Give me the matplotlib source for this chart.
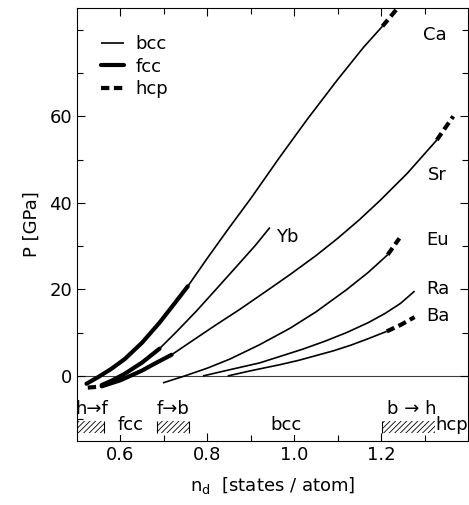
import matplotlib.pyplot as plt
from matplotlib.lines import Line2D

plt.rcParams.update({'font.family': 'DejaVu Sans', 'font.size': 13,
                     'hatch.linewidth': 0.6})

# Ca
ca_fcc_x = [0.522, 0.55, 0.58, 0.61, 0.65, 0.69, 0.725, 0.755]
ca_fcc_y = [-1.8, -0.2, 1.7, 3.9, 7.7, 12.3, 16.8, 20.7]
ca_bcc_x = [0.755, 0.80, 0.85, 0.90, 0.967, 1.03, 1.10, 1.16, 1.203]
ca_bcc_y = [20.7, 27.2, 34.2, 41.0, 50.6, 59.3, 68.5, 76.0, 80.8]
ca_hcp_x = [1.203, 1.238]
ca_hcp_y = [80.8, 85.0]

# Yb
yb_hcp_x = [0.525, 0.548]
yb_hcp_y = [-2.7, -2.5]
yb_fcc_x = [0.557, 0.58, 0.61, 0.65, 0.69]
yb_fcc_y = [-2.1, -1.1, 0.5, 3.1, 6.3]
yb_bcc_x = [0.69, 0.73, 0.775, 0.82, 0.87, 0.91, 0.944]
yb_bcc_y = [6.3, 10.3, 15.0, 20.0, 25.6, 30.1, 34.3]

# Sr
sr_fcc_x = [0.557, 0.60, 0.649, 0.68, 0.718]
sr_fcc_y = [-2.4, -1.0, 1.2, 2.9, 4.9]
sr_bcc_x = [0.718, 0.771, 0.82, 0.875, 0.93, 0.99, 1.05, 1.10, 1.15, 1.197, 1.26, 1.328]
sr_bcc_y = [4.9, 8.5, 11.8, 15.4, 19.2, 23.4, 27.8, 31.8, 36.1, 40.5, 46.8, 54.5]
sr_hcp_x = [1.328, 1.366]
sr_hcp_y = [54.5, 60.0]

# Eu
eu_bcc_x = [0.698, 0.748, 0.80, 0.852, 0.92, 0.99, 1.05, 1.12, 1.17, 1.215]
eu_bcc_y = [-1.6, 0.0, 1.8, 3.9, 7.2, 11.0, 14.8, 19.9, 23.9, 28.0]
eu_hcp_x = [1.215, 1.242]
eu_hcp_y = [28.0, 31.8]

# Ra
ra_bcc_x = [0.79, 0.85, 0.92, 0.967, 1.02, 1.07, 1.12, 1.17, 1.21, 1.245, 1.277]
ra_bcc_y = [0.0, 1.4, 3.0, 4.5, 6.2, 8.0, 10.0, 12.3, 14.5, 16.8, 19.6]

# Ba
ba_bcc_x = [0.847, 0.90, 0.967, 1.01, 1.05, 1.09, 1.13, 1.17, 1.213]
ba_bcc_y = [0.0, 1.2, 2.6, 3.6, 4.7, 5.8, 7.1, 8.6, 10.3]
ba_hcp_x = [1.213, 1.245, 1.277]
ba_hcp_y = [10.3, 11.8, 13.6]

# element labels
el_names = ['Ca', 'Sr', 'Yb', 'Eu', 'Ra', 'Ba']
el_x = [1.323, 1.33, 0.985, 1.33, 1.33, 1.33]
el_y = [78.8, 46.4, 32.2, 31.5, 20.0, 13.8]

# phase transition bands
band_x0 = [0.5, 0.684, 1.203]
band_x1 = [0.562, 0.757, 1.33]
trans_labels = ['h→f', 'f→b', 'b → h']
trans_x = [0.535, 0.721, 1.27]
phase_labels = ['fcc', 'bcc', 'hcp']
phase_x = [0.624, 0.98, 1.362]

fig = plt.figure(figsize=(4.69, 5.05), dpi=100)
ax = fig.add_axes([0.164, 0.127, 0.834, 0.857])

thin = dict(color='black', lw=1.2, solid_capstyle='butt', solid_joinstyle='round')
thick = dict(color='black', lw=3.0, solid_capstyle='round', solid_joinstyle='round')
dash = dict(color='black', lw=3.0, ls=(0, (2.0, 1.1)))

ax.axhline(0, color='0.25', lw=0.8, zorder=1)

ax.plot(ca_fcc_x, ca_fcc_y, **thick)
ax.plot(ca_bcc_x, ca_bcc_y, **thin)
ax.plot(ca_hcp_x, ca_hcp_y, **dash)

ax.plot(yb_hcp_x, yb_hcp_y, **dash)
ax.plot(yb_fcc_x, yb_fcc_y, **thick)
ax.plot(yb_bcc_x, yb_bcc_y, **thin)

ax.plot(sr_fcc_x, sr_fcc_y, **thick)
ax.plot(sr_bcc_x, sr_bcc_y, **thin)
ax.plot(sr_hcp_x, sr_hcp_y, **dash)

ax.plot(eu_bcc_x, eu_bcc_y, **thin)
ax.plot(eu_hcp_x, eu_hcp_y, **dash)

ax.plot(ra_bcc_x, ra_bcc_y, **thin)

ax.plot(ba_bcc_x, ba_bcc_y, **thin)
ax.plot(ba_hcp_x, ba_hcp_y, **dash)

for name, x, y in zip(el_names, el_x, el_y):
    ax.text(x, y, name, ha='center', va='center', fontsize=13)

# hatched transition regions
for x0, x1 in zip(band_x0, band_x1):
    ax.fill_between([x0, x1], -13.2, -10.3, facecolor='none', edgecolor='black',
                    hatch='//////', lw=0)
    ax.vlines([x0, x1], -13.2, -10.3, color='black', lw=0.8)
for lab, x in zip(trans_labels, trans_x):
    ax.text(x, -7.6, lab, ha='center', va='center', fontsize=13)
for lab, x in zip(phase_labels, phase_x):
    ax.text(x, -11.4, lab, ha='center', va='center', fontsize=13,
            bbox=dict(facecolor='white', edgecolor='none', pad=0.3))

handles = [Line2D([], [], **thin), Line2D([], [], **thick), Line2D([], [], **dash)]
ax.legend(handles, ['bcc', 'fcc', 'hcp'], loc='upper left', frameon=False,
          bbox_to_anchor=(0.02, 0.975), handlelength=1.3, handletextpad=0.6,
          labelspacing=0.25, fontsize=13)

ax.set_xlim(0.5, 1.4)
ax.set_ylim(-15, 85)
ax.set_xticks([0.6, 0.8, 1.0, 1.2])
ax.set_xticklabels(['0.6', '0.8', '1.0', '1.2'])
ax.set_xticks([0.7, 0.9, 1.1, 1.3], minor=True)
ax.set_yticks([0, 20, 40, 60])
ax.set_yticks([-10, 10, 30, 50, 70, 80], minor=True)
ax.tick_params(which='both', direction='in', top=True, right=True, labelsize=13)
ax.tick_params(which='major', length=6, width=0.8)
ax.tick_params(which='minor', length=4, width=0.8)
ax.set_xlabel('n$_\\mathregular{d}$  [states / atom]', fontsize=13, labelpad=8)
ax.set_ylabel('P [GPa]', fontsize=13, labelpad=6)

fig.savefig('out.png', dpi=100)
